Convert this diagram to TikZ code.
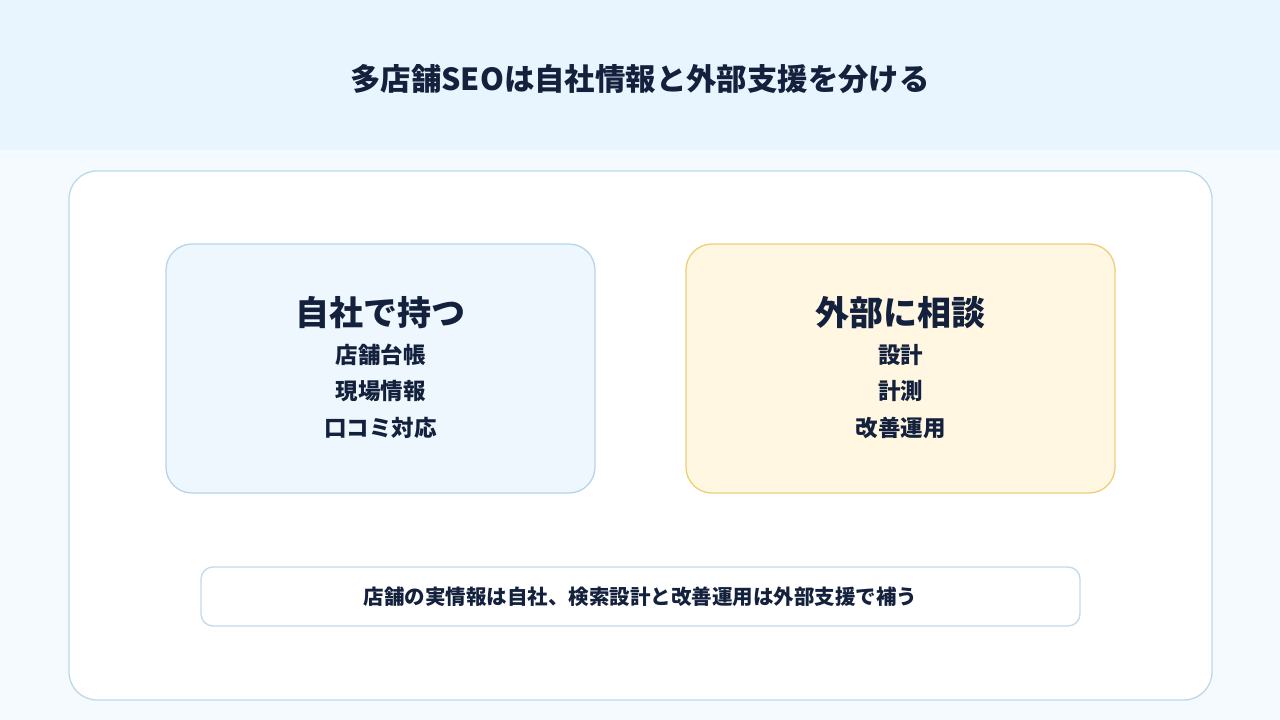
\documentclass[tikz,border=0pt]{standalone}
\usepackage{fontspec}
\setmainfont{Noto Sans CJK JP}
\definecolor{hdr}{HTML}{E8F4FE}
\definecolor{bgc}{HTML}{F5FAFE}
\definecolor{panelb}{HTML}{BDD9E9}
\definecolor{leftf}{HTML}{EEF6FE}
\definecolor{leftb}{HTML}{B7D5EA}
\definecolor{rightf}{HTML}{FFF7E2}
\definecolor{rightb}{HTML}{EDCF78}
\definecolor{noteb}{HTML}{C4D9EA}
\definecolor{ink}{HTML}{14213D}
\tikzset{
  x=1pt,y=-1pt,
  boxstyle/.style={line width=1.3pt, rounded corners=26pt},
  headtxt/.style={text=ink, font=\fontsize{34}{40}\selectfont\bfseries, anchor=center, inner sep=0pt},
  itemtxt/.style={text=ink, font=\fontsize{22.5}{26}\selectfont\bfseries, anchor=center, inner sep=0pt},
}
\begin{document}
\begin{tikzpicture}
\useasboundingbox (0,0) rectangle (1280,720);
\fill[bgc] (0,0) rectangle (1280,720);
\fill[hdr] (0,0) rectangle (1280,150);
\node[text=ink, font=\fontsize{30.4}{36}\selectfont\bfseries, inner sep=0pt] (title) at (640,79) {多店舗SEOは自社情報と外部支援を分ける};
\draw[boxstyle, fill=white, draw=panelb, rounded corners=28pt] (69,171) rectangle (1212,700);
\draw[boxstyle, fill=leftf, draw=leftb] (166,244) rectangle (595,493);
\draw[boxstyle, fill=rightf, draw=rightb] (686,244) rectangle (1115,493);
\node[headtxt] (lh) at (380.5,313) {自社で持つ};
\node[itemtxt] (l1) at (380.5,355) {店舗台帳};
\node[itemtxt] (l2) at (380.5,391) {現場情報};
\node[itemtxt] (l3) at (380.5,428) {口コミ対応};
\node[headtxt] (rh) at (900.5,313) {外部に相談};
\node[itemtxt] (r1) at (900.5,355) {設計};
\node[itemtxt] (r2) at (900.5,391) {計測};
\node[itemtxt] (r3) at (900.5,428) {改善運用};
\draw[line width=1.3pt, fill=white, draw=noteb, rounded corners=12pt] (201,567) rectangle (1080,626);
\node[text=ink, font=\fontsize{20.5}{24}\selectfont\bfseries, inner sep=0pt] (note) at (640.5,597) {店舗の実情報は自社、検索設計と改善運用は外部支援で補う};
\end{tikzpicture}
\end{document}
